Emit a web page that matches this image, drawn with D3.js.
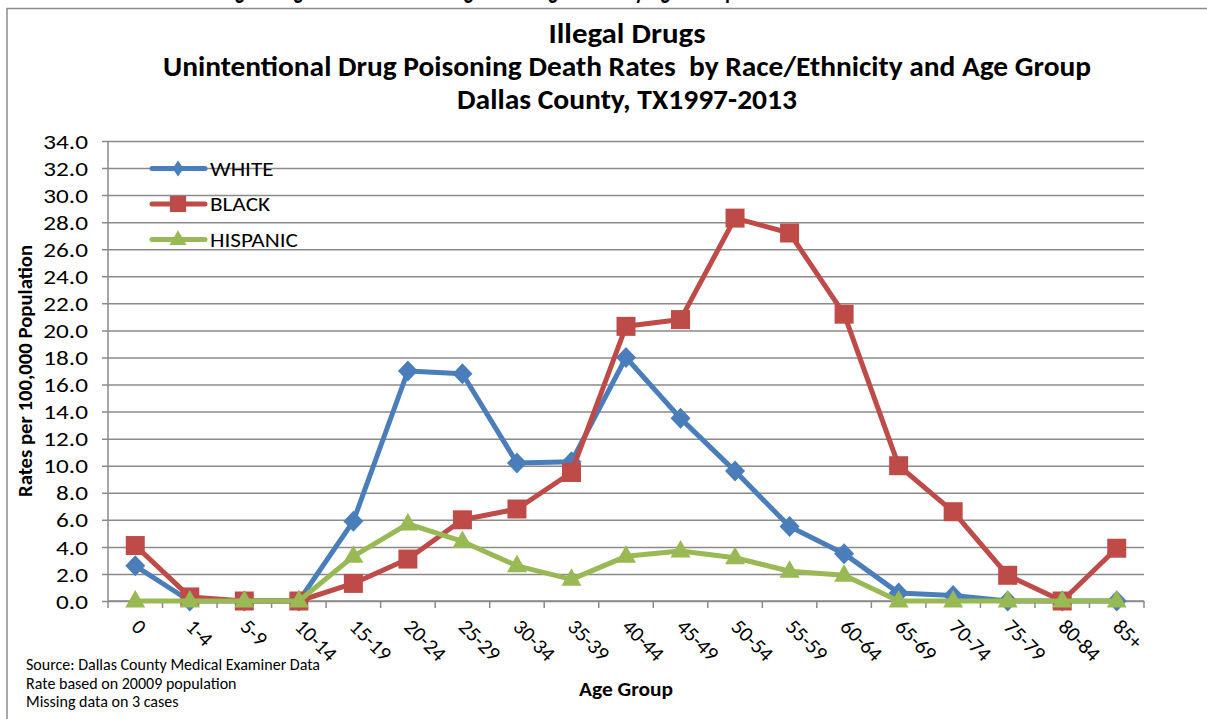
<!DOCTYPE html>
<html>
<head>
<meta charset="utf-8">
<script src="https://cdn.jsdelivr.net/npm/d3@7"></script>
<style>
  body { margin: 0; background: #fff; }
  text { font-family: Carlito, "Open Sans", "Liberation Sans", sans-serif; white-space: pre; }
</style>
</head>
<body>
<div id="chart"></div>
<script>
var ageGroups = ["0", "1-4", "5-9", "10-14", "15-19", "20-24", "25-29", "30-34", "35-39", "40-44",
  "45-49", "50-54", "55-59", "60-64", "65-69", "70-74", "75-79", "80-84", "85+"];

var white = [2.6, 0, 0, 0, 5.9, 17.0, 16.8, 10.2, 10.3, 18.0, 13.5, 9.6, 5.5, 3.5, 0.6, 0.4, 0, 0, 0];
var black = [4.1, 0.3, 0, 0, 1.3, 3.1, 6.0, 6.8, 9.5, 20.3, 20.8, 28.3, 27.2, 21.2, 10.0, 6.6, 1.9, 0, 3.9];
var hispanic = [0, 0, 0, 0, 3.3, 5.7, 4.4, 2.6, 1.6, 3.3, 3.7, 3.2, 2.2, 1.9, 0, 0, 0, 0, 0];

var yTicks = d3.range(0, 34.1, 2);

var seriesNames = ["WHITE", "BLACK", "HISPANIC"];
var seriesColors = ["#4a7ebb", "#be4b48", "#98b954"];
var seriesShapes = ["diamond", "square", "triangle"];

var titleLines = ["Illegal Drugs",
  "Unintentional Drug Poisoning Death Rates  by Race/Ethnicity and Age Group",
  "Dallas County, TX1997-2013"];
var notes = ["Source: Dallas County Medical Examiner Data",
  "Rate based on 20009 population",
  "Missing data on 3 cases"];

var series = [white, black, hispanic].map(function(vals, i) {
  return { name: seriesNames[i], color: seriesColors[i], shape: seriesShapes[i],
    values: vals.map(function(v, j) { return { age: ageGroups[j], rate: v }; }) };
});

var width = 1207, height = 719;
var plot = { left: 108, right: 1144, top: 141, bottom: 601 };

// widen text a bit, the source render is slightly stretched sideways
function stretch(sel, k) {
  sel.each(function() {
    var w = this.getComputedTextLength();
    d3.select(this).attr("textLength", w * k).attr("lengthAdjust", "spacingAndGlyphs");
  });
}

function marker(shape, s) {
  // s = scale, 1 for plot markers
  if (shape === "diamond") {
    var w = 10 * s, h = 10.5 * s;
    return "M0," + (-h) + "L" + w + ",0L0," + h + "L" + (-w) + ",0Z";
  }
  if (shape === "square") {
    var a = 9.5 * s;
    return "M" + (-a) + "," + (-a) + "H" + a + "V" + a + "H" + (-a) + "Z";
  }
  var b = 10 * s, t = 11 * s, u = 6.5 * s;
  return "M0," + (-t) + "L" + b + "," + u + "L" + (-b) + "," + u + "Z";
}

var svg = d3.select("#chart").append("svg")
  .attr("width", width)
  .attr("height", height);

// frame of the chart object (right side runs off the page)
svg.append("path")
  .attr("d", "M7,719 V8.5 H1207")
  .attr("fill", "none")
  .attr("stroke", "#8c8c8c")
  .attr("stroke-width", 1.5);

// clipped title line from the slide above
svg.append("text")
  .attr("x", 500).attr("y", -1)
  .attr("text-anchor", "middle")
  .style("font-weight", "bold").style("font-size", "28px")
  .attr("textLength", 580).attr("lengthAdjust", "spacingAndGlyphs")
  .text("Illegal Drugs Unintentional Drug Poisoning Deaths by Age Group Dallas");

/* Titles */
var titleY = [43, 76, 109];
var titleW = [157, 928, 340];
titleLines.forEach(function(t, i) {
  svg.append("text")
    .attr("x", 627).attr("y", titleY[i])
    .attr("text-anchor", "middle")
    .style("font-weight", "bold").style("font-size", "29px")
    .attr("textLength", titleW[i]).attr("lengthAdjust", "spacingAndGlyphs")
    .text(t);
});

/* Scales */
var xScale = d3.scaleBand()
  .domain(ageGroups)
  .range([plot.left, plot.right]);

var yScale = d3.scaleLinear()
  .domain([0, 34])
  .range([plot.bottom, plot.top]);

/* Gridlines + y axis */
var yAxis = d3.axisLeft(yScale)
  .tickValues(yTicks)
  .tickSize(-(plot.right - plot.left + 6))
  .tickPadding(14)
  .tickFormat(d3.format(".1f"));

var gy = svg.append("g")
  .attr("transform", "translate(" + (plot.left - 6) + ",0)")
  .call(yAxis);
gy.select(".domain").remove();
gy.selectAll("line").attr("stroke", "#8a8a8a").attr("stroke-width", 1.5);
gy.selectAll("text").style("font-size", "21px").attr("fill", "#000").attr("dy", "0.34em");
stretch(gy.selectAll("text"), 1.2);

svg.append("line")
  .attr("x1", plot.left).attr("x2", plot.left)
  .attr("y1", plot.top).attr("y2", plot.bottom)
  .attr("stroke", "#8a8a8a").attr("stroke-width", 1.5);

/* x axis */
var gx = svg.append("g")
  .attr("transform", "translate(0," + plot.bottom + ")");
gx.append("line")
  .attr("x1", plot.left).attr("x2", plot.right)
  .attr("stroke", "#8a8a8a").attr("stroke-width", 1.5);
gx.selectAll(".tk")
  .data(ageGroups.concat(["end"])).enter()
  .append("line")
  .attr("x1", function(d) { return d === "end" ? plot.right : xScale(d); })
  .attr("x2", function(d) { return d === "end" ? plot.right : xScale(d); })
  .attr("y1", 0).attr("y2", 7)
  .attr("stroke", "#8a8a8a").attr("stroke-width", 1.5);

gx.selectAll(".lbl")
  .data(ageGroups).enter()
  .append("text")
  .attr("transform", function(d) {
    return "translate(" + (xScale(d) + xScale.bandwidth() / 2 - 5) + ",27) rotate(45)";
  })
  .attr("text-anchor", "start")
  .style("font-size", "21px")
  .text(function(d) { return d; });

/* Axis titles */
svg.append("text")
  .attr("transform", "translate(32," + ((plot.top + plot.bottom) / 2) + ") rotate(-90)")
  .attr("text-anchor", "middle")
  .style("font-weight", "bold").style("font-size", "20px")
  .attr("textLength", 252).attr("lengthAdjust", "spacingAndGlyphs")
  .text("Rates per 100,000 Population");

svg.append("text")
  .attr("x", 626).attr("y", 696)
  .attr("text-anchor", "middle")
  .style("font-weight", "bold").style("font-size", "20px")
  .attr("textLength", 94).attr("lengthAdjust", "spacingAndGlyphs")
  .text("Age Group");

/* Notes */
notes.forEach(function(t, i) {
  svg.append("text")
    .attr("x", 26).attr("y", 670 + i * 18.5)
    .style("font-size", "16px")
    .text(t);
});

/* Lines */
var line = d3.line()
  .x(function(d) { return xScale(d.age) + xScale.bandwidth() / 2; })
  .y(function(d) { return yScale(d.rate); });

var groups = svg.append("g").selectAll(".series")
  .data(series).enter()
  .append("g");

groups.append("path")
  .attr("d", function(d) { return line(d.values); })
  .attr("fill", "none")
  .attr("stroke", function(d) { return d.color; })
  .attr("stroke-width", 5)
  .attr("stroke-linejoin", "round");

groups.each(function(s) {
  d3.select(this).selectAll("path.m")
    .data(s.values).enter()
    .append("path")
    .attr("class", "m")
    .attr("d", marker(s.shape, 1))
    .attr("transform", function(d) {
      return "translate(" + (xScale(d.age) + xScale.bandwidth() / 2) + "," + yScale(d.rate) + ")";
    })
    .attr("fill", s.color);
});

/* Legend */
var legend = svg.append("g").selectAll(".leg")
  .data(series).enter()
  .append("g")
  .attr("transform", function(d, i) { return "translate(152," + (168.5 + i * 35.5) + ")"; });

legend.append("line")
  .attr("x1", 0).attr("x2", 53)
  .attr("stroke", function(d) { return d.color; })
  .attr("stroke-width", 5)
  .attr("stroke-linecap", "round");
legend.append("path")
  .attr("d", function(d) { return d.shape === "diamond" ? "M0,-8L5.5,0L0,8L-5.5,0Z" : marker(d.shape, 0.85); })
  .attr("transform", "translate(26,0)")
  .attr("fill", function(d) { return d.color; });
var legText = legend.append("text")
  .attr("x", 58).attr("y", 7)
  .style("font-size", "20px")
  .text(function(d) { return d.name; });
stretch(legText, 1.16);
</script>
</body>
</html>
